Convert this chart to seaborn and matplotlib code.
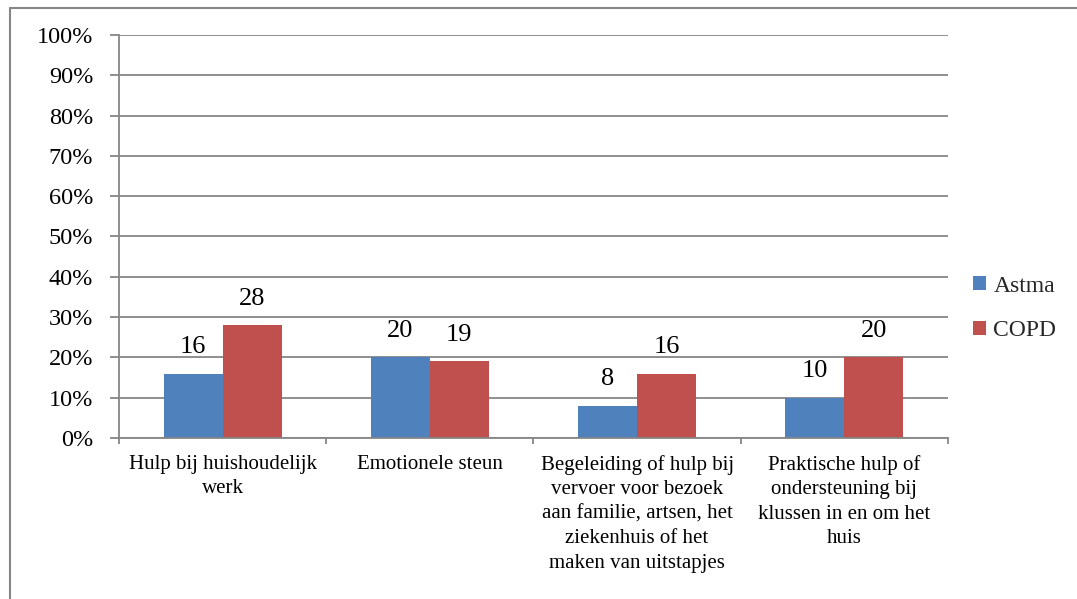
import matplotlib
matplotlib.use("Agg")
import matplotlib.pyplot as plt
from matplotlib.lines import Line2D
from matplotlib.ticker import FixedLocator, NullFormatter
import pandas as pd
import seaborn as sns

categories = [
    "Hulp bij huishoudelijk\nwerk",
    "Emotionele steun",
    "Begeleiding of hulp bij\nvervoer voor bezoek\naan familie, artsen, het\nziekenhuis of het\nmaken van uitstapjes",
    "Praktische hulp of\nondersteuning bij\nklussen in en om het\nhuis",
]
series_names = ["Astma", "COPD"]
astma = [16, 20, 8, 10]
copd = [28, 19, 16, 20]
y_ticks = list(range(0, 101, 10))
y_tick_labels = [f"{v}%" for v in y_ticks]
colors = ["#4F81BD", "#C0504D"]

df = pd.DataFrame({
    "categorie": categories * 2,
    "reeks": [series_names[0]] * 4 + [series_names[1]] * 4,
    "waarde": astma + copd,
})

sns.set_theme(style="white")
serif = ["Liberation Serif", "DejaVu Serif"]
plt.rcParams["font.family"] = serif

grid_color = "#868686"

fig = plt.figure(figsize=(10.77, 5.99), dpi=100)
ax = fig.add_axes([0.1105, 0.2688, 0.7697, 0.6728])

sns.barplot(
    data=df, x="categorie", y="waarde", hue="reeks",
    order=categories, hue_order=series_names,
    palette=colors, saturation=1, width=0.57, gap=0,
    linewidth=0, ax=ax,
)

ax.set_ylim(0, 100)
ax.set_xlim(-0.5, len(categories) - 0.5)
ax.set_xlabel("")
ax.set_ylabel("")

# y axis: percent ticks with horizontal gridlines
ax.set_yticks(y_ticks)
ax.set_yticklabels(y_tick_labels, fontsize=17.5, color="black", fontfamily=serif)
ax.yaxis.grid(True, color=grid_color, linewidth=1.3)
ax.set_axisbelow(True)
ax.tick_params(axis="y", direction="out", length=6.5, width=1.3,
               color=grid_color, pad=12, left=True)

# x axis: labels centred on categories, tick marks between groups
ax.set_xticks(range(len(categories)))
ax.set_xticklabels(categories, fontsize=15, color="black", linespacing=1.4,
                   fontfamily=serif, va="top")
ax.tick_params(axis="x", which="major", length=0, pad=12)
ax.xaxis.set_minor_locator(FixedLocator([i - 0.5 for i in range(len(categories) + 1)]))
ax.xaxis.set_minor_formatter(NullFormatter())
ax.tick_params(axis="x", which="minor", direction="out", length=4.5,
               width=1.3, color=grid_color, bottom=True)

for side in ["top", "right"]:
    ax.spines[side].set_visible(False)
for side in ["left", "bottom"]:
    ax.spines[side].set_visible(True)
    ax.spines[side].set_color(grid_color)
    ax.spines[side].set_linewidth(1.3)

# value labels above the bars
for container in ax.containers:
    ax.bar_label(container, labels=[f"{v:.0f}" for v in container.datavalues],
                 padding=11, fontsize=19, color="black", fontfamily=serif)

# legend on the right
handles, labels = ax.get_legend_handles_labels()
ax.legend(handles, labels, loc="center left", bbox_to_anchor=(0.895, 0.485),
          bbox_transform=fig.transFigure, frameon=False,
          prop={"family": serif, "size": 17},
          handlelength=0.55, handleheight=0.55, handletextpad=0.3,
          labelspacing=1.0, borderaxespad=0)

# outer chart frame (top and left edges)
fig.add_artist(Line2D([0.0093, 0.0093], [0.0, 0.9866], transform=fig.transFigure,
                      color=grid_color, linewidth=1.5))
fig.add_artist(Line2D([0.0093, 1.0], [0.9866, 0.9866], transform=fig.transFigure,
                      color=grid_color, linewidth=1.5))

fig.savefig("out.png", dpi=100, facecolor="white")
